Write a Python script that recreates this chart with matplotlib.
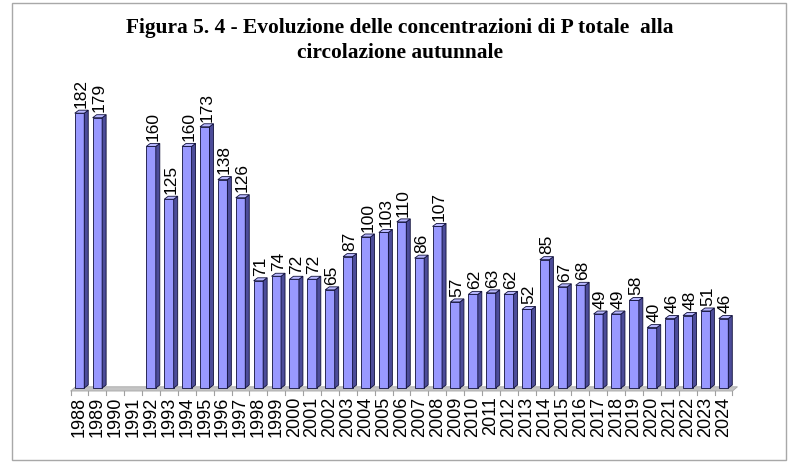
import numpy as np
import matplotlib
matplotlib.use("Agg")
import matplotlib.pyplot as plt
from matplotlib.patches import Polygon, Rectangle

years = [str(y) for y in range(1988, 2025)]
values = [182, 179, None, None, 160, 125, 160, 173, 138, 126, 71, 74, 72, 72, 65,
          87, 100, 103, 110, 86, 107, 57, 62, 63, 62, 52, 85, 67, 68, 49, 49, 58,
          40, 46, 48, 51, 46]
title_lines = ["Figura 5. 4 - Evoluzione delle concentrazioni di P totale  alla",
               "circolazione autunnale"]

front_col = "#9999ff"
side_col = "#4c4c99"
top_col = "#b8b8ff"
edge_col = "#10103a"

W, H = 800, 465
fig = plt.figure(figsize=(W / 100, H / 100), dpi=100)

# pixel mapping: category 0 centred at x=79.5, step 17.89 px; value 0 at y=388, 1.51 px/unit
step = 17.89
ppu = 1.51
x0_px, y0_px = 79.5, 388
ax_l, ax_r, ax_t, ax_b = 60, 750, 60, 400
ax = fig.add_axes([ax_l / W, (H - ax_b) / H, (ax_r - ax_l) / W, (ax_b - ax_t) / H])
ax.set_xlim((ax_l - x0_px) / step, (ax_r - x0_px) / step)
ax.set_ylim((y0_px - ax_b) / ppu, (y0_px - ax_t) / ppu)
ax.axis("off")

n = len(years)
xs = np.arange(n)
bw = 0.53
dx = 4 / step
dy = 3 / ppu

# floor
fl_front = -2.0
fl_back = 0.8
fdx = 5 / step
ax.add_patch(Polygon([(-0.5, fl_front), (n - 0.5, fl_front), (n - 0.5 + fdx, fl_back),
                      (-0.5 + fdx, fl_back)], closed=True, facecolor="#c4c4c4",
                     edgecolor="#a8a8a8", lw=0.6, zorder=1))
for k in range(n + 1):
    ax.plot([k - 0.5, k - 0.5], [fl_front, fl_front - 4 / ppu], color="#a0a0a0", lw=0.8,
            zorder=1, clip_on=False)

vals = np.array([np.nan if v is None else v for v in values], dtype=float)
ok = ~np.isnan(vals)
ax.bar(xs[ok], vals[ok], width=bw, color=front_col, edgecolor=edge_col, linewidth=0.6, zorder=3)
for x, v in zip(xs[ok], vals[ok]):
    r = x + bw / 2
    l = x - bw / 2
    ax.add_patch(Polygon([(r, 0), (r + dx, dy), (r + dx, v + dy), (r, v)], closed=True,
                         facecolor=side_col, edgecolor=edge_col, lw=0.6, zorder=3))
    ax.add_patch(Polygon([(l, v), (r, v), (r + dx, v + dy), (l + dx, v + dy)], closed=True,
                         facecolor=top_col, edgecolor=edge_col, lw=0.6, zorder=3))
    ax.text(x + dx / 2, v + dy + 1.5, str(int(v)), rotation=90, ha="center", va="bottom",
            fontsize=12.5, family="Liberation Sans", zorder=4)

for x, lab in zip(xs, years):
    ax.text(x, fl_front - 5.5 / ppu, lab, rotation=90, ha="center", va="top",
            fontsize=13, family="Liberation Sans", clip_on=False)

for line, base_px in zip(title_lines, [33, 58]):
    fig.text(0.5, 1 - base_px / H, line, ha="center", va="baseline", fontsize=15.4,
             family="Liberation Serif", weight="bold")

fig.patches.append(Rectangle((12 / W, 1 - 460 / H), 774 / W, 457 / H, transform=fig.transFigure,
                             fill=False, edgecolor="#a8a8a8", lw=1.0))

fig.savefig("out.png", dpi=100)
